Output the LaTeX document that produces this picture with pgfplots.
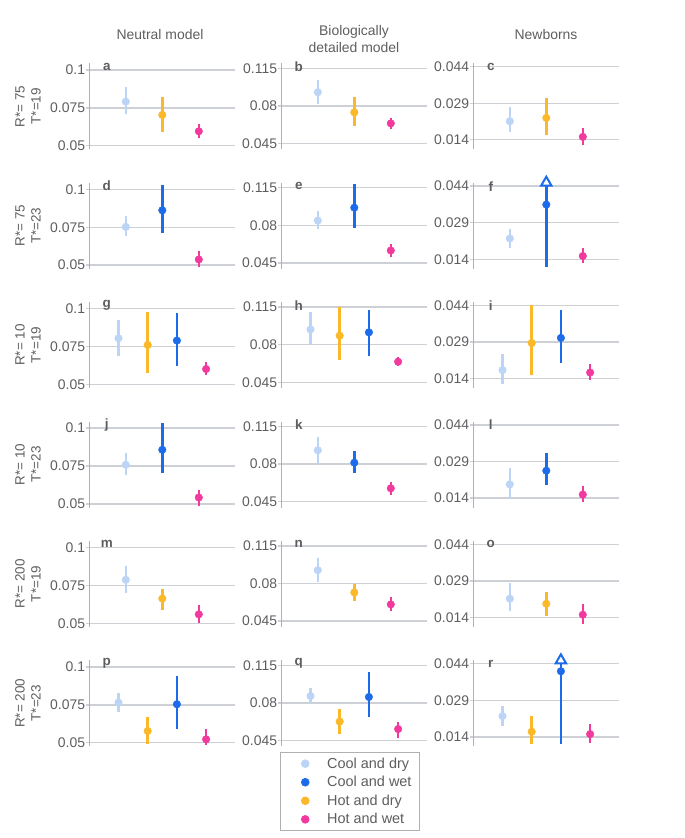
\documentclass[border=0pt]{standalone}
\usepackage{fontspec}
\setmainfont{Liberation Sans}
\usepackage{pgfplots}
\usepackage{pgfplotstable}
\pgfplotsset{compat=1.18}

\definecolor{cdry}{HTML}{BCD4F6}
\definecolor{cwet}{HTML}{1C6BEA}
\definecolor{hdry}{HTML}{FBB829}
\definecolor{hwet}{HTML}{F2399E}
\definecolor{gridgray}{HTML}{CDD0D4}
\definecolor{axisgray}{HTML}{B0B0B0}
\definecolor{textgray}{HTML}{5E5E5E}

% cat: 1 cool+dry, 2 cool+wet, 3 hot+dry, 4 hot+wet
\pgfplotstableread{
cat x y lo hi
1 0.25 0.0791 0.0707 0.0885
3 0.50 0.0703 0.0588 0.0819
4 0.75 0.0595 0.0548 0.0641
}\tabA
\pgfplotstableread{
cat x y lo hi
1 0.25 0.0927 0.0820 0.1039
3 0.50 0.0740 0.0615 0.0882
4 0.75 0.0637 0.0584 0.0686
}\tabB
\pgfplotstableread{
cat x y lo hi
1 0.25 0.0216 0.0170 0.0274
3 0.50 0.0230 0.0159 0.0311
4 0.75 0.0152 0.0119 0.0188
}\tabC
\pgfplotstableread{
cat x y lo hi
1 0.25 0.0752 0.0691 0.0822
2 0.50 0.0862 0.0715 0.1031
4 0.75 0.0537 0.0487 0.0590
}\tabD
\pgfplotstableread{
cat x y lo hi
1 0.25 0.0844 0.0769 0.0933
2 0.50 0.0964 0.0773 0.1185
4 0.75 0.0565 0.0508 0.0623
}\tabE
\pgfplotstableread{
cat x y lo hi
1 0.25 0.0225 0.0186 0.0266
2 0.50 0.0364 0.0109 0.0454
4 0.75 0.0153 0.0125 0.0186
}\tabF
\pgfplotstableread{
cat x y lo hi
1 0.2 0.0805 0.0690 0.0927
3 0.4 0.0761 0.0575 0.0976
2 0.6 0.0790 0.0622 0.0971
4 0.8 0.0602 0.0560 0.0648
}\tabG
\pgfplotstableread{
cat x y lo hi
1 0.2 0.0942 0.0804 0.1106
3 0.4 0.0884 0.0654 0.1150
2 0.6 0.0915 0.0698 0.1128
4 0.8 0.0641 0.0597 0.0685
}\tabH
\pgfplotstableread{
cat x y lo hi
1 0.2 0.0175 0.0119 0.0243
3 0.4 0.0286 0.0154 0.0443
2 0.6 0.0307 0.0205 0.0421
4 0.8 0.0165 0.0133 0.0198
}\tabI
\pgfplotstableread{
cat x y lo hi
1 0.25 0.0758 0.0692 0.0839
2 0.50 0.0857 0.0703 0.1033
4 0.75 0.0542 0.0489 0.0593
}\tabJ
\pgfplotstableread{
cat x y lo hi
1 0.25 0.0929 0.0805 0.1053
2 0.50 0.0813 0.0716 0.0920
4 0.75 0.0574 0.0508 0.0632
}\tabK
\pgfplotstableread{
cat x y lo hi
1 0.25 0.0196 0.0136 0.0262
2 0.50 0.0252 0.0192 0.0325
4 0.75 0.0154 0.0123 0.0190
}\tabL
\pgfplotstableread{
cat x y lo hi
1 0.25 0.0787 0.0700 0.0880
3 0.50 0.0663 0.0587 0.0728
4 0.75 0.0559 0.0504 0.0620
}\tabM
\pgfplotstableread{
cat x y lo hi
1 0.25 0.0924 0.0813 0.1039
3 0.50 0.0716 0.0636 0.0796
4 0.75 0.0605 0.0539 0.0672
}\tabN
\pgfplotstableread{
cat x y lo hi
1 0.25 0.0217 0.0168 0.0280
3 0.50 0.0196 0.0147 0.0245
4 0.75 0.0151 0.0112 0.0193
}\tabO
\pgfplotstableread{
cat x y lo hi
1 0.2 0.0765 0.0704 0.0831
3 0.4 0.0577 0.0489 0.0667
2 0.6 0.0754 0.0590 0.0939
4 0.8 0.0522 0.0485 0.0588
}\tabP
\pgfplotstableread{
cat x y lo hi
1 0.2 0.0864 0.0785 0.0943
3 0.4 0.0626 0.0512 0.0741
2 0.6 0.0855 0.0670 0.1084
4 0.8 0.0556 0.0476 0.0626
}\tabQ
\pgfplotstableread{
cat x y lo hi
1 0.2 0.0225 0.0186 0.0267
3 0.4 0.0161 0.0109 0.0225
2 0.6 0.0409 0.0109 0.0454
4 0.8 0.0151 0.0116 0.0193
}\tabR

\pgfplotsset{
  panel/.style={
    anchor=north west, scale only axis, width=146bp, height=86bp,
    xmin=0, xmax=1, axis x line=none, axis y line*=left,
    y axis line style={-, draw=axisgray, line width=0.9bp},
    ymajorgrids, major grid style={draw=gridgray, line width=1.4bp},
    tick align=outside, major tick length=3bp,
    ytick style={draw=gridgray, line width=1.4bp},
    scaled y ticks=false,
    yticklabel style={font=\fontsize{14}{15}\selectfont, text=textgray, inner xsep=1bp},
    clip=false,
  },
  colA/.style={ymin=0.0476, ymax=0.1044, ytick={0.05,0.075,0.1}, yticklabels={0.05,0.075,0.1}},
  colB/.style={ymin=0.0395, ymax=0.1197, ytick={0.045,0.08,0.115}, yticklabels={0.045,0.08,0.115}},
  colC/.style={ymin=0.0101, ymax=0.0454, ytick={0.014,0.029,0.044}, yticklabels={0.014,0.029,0.044}},
  s1/.style={cdry}, s2/.style={cwet}, s3/.style={hdry}, s4/.style={hwet},
}

\newcommand{\series}[2]{%
  \addplot[s#1, only marks, mark=*, mark size=3.8bp,
    error bars/y dir=both, error bars/y explicit, error bars/error mark=none,
    error bars/error bar style={line width=2.6bp, s#1}]
    table[x=x, y=y, y error plus expr=\thisrow{hi}-\thisrow{y},
      y error minus expr=\thisrow{y}-\thisrow{lo},
      restrict expr to domain={\thisrow{cat}}{#1:#1}] {#2};}

\newcommand{\panel}[6]{%
  \begin{axis}[panel, #3, at={(#1bp,-#2bp)}]
    \series{1}{#4}\series{2}{#4}\series{3}{#4}\series{4}{#4}
    \node[font=\bfseries\fontsize{13.5}{14}\selectfont, text=textgray]
      at (rel axis cs:0.12,0.96) {#5};
    #6
  \end{axis}}

\newcommand{\rowlab}[3]{%
  \node[rotate=90, align=center, text=textgray, font=\fontsize{13.5}{16}\selectfont]
    at (28bp,-#1bp) {R*= #2\\T*=#3};}

\begin{document}
\begin{tikzpicture}
\useasboundingbox (0,0) rectangle (685bp,-838bp);

\node[text=textgray, font=\fontsize{14}{17}\selectfont] at (160bp,-35bp) {Neutral model};
\node[text=textgray, font=\fontsize{14}{17}\selectfont, align=center] at (354bp,-39bp) {Biologically\\detailed model};
\node[text=textgray, font=\fontsize{14}{17}\selectfont] at (546bp,-35bp) {Newborns};

\rowlab{106.3}{75}{19}
\rowlab{225.7}{75}{23}
\rowlab{345.1}{10}{19}
\rowlab{464.5}{10}{23}
\rowlab{583.9}{200}{19}
\rowlab{703.3}{200}{23}

\panel{89.3}{63.3}{colA}{\tabA}{a}{}
\panel{281.3}{63.3}{colB}{\tabB}{b}{}
\panel{473.3}{63.3}{colC}{\tabC}{c}{}

\panel{89.3}{182.7}{colA}{\tabD}{d}{}
\panel{281.3}{182.7}{colB}{\tabE}{e}{}
\panel{473.3}{182.7}{colC}{\tabF}{f}{%
  \addplot[cwet, only marks, mark=triangle*, mark size=6bp,
    mark options={fill=white, draw=cwet, line width=2bp}] coordinates {(0.5,0.0454)};}

\panel{89.3}{302.1}{colA}{\tabG}{g}{}
\panel{281.3}{302.1}{colB}{\tabH}{h}{}
\panel{473.3}{302.1}{colC}{\tabI}{i}{}

\panel{89.3}{421.5}{colA}{\tabJ}{j}{}
\panel{281.3}{421.5}{colB}{\tabK}{k}{}
\panel{473.3}{421.5}{colC}{\tabL}{l}{}

\panel{89.3}{540.9}{colA}{\tabM}{m}{}
\panel{281.3}{540.9}{colB}{\tabN}{n}{}
\panel{473.3}{540.9}{colC}{\tabO}{o}{}

\panel{89.3}{660.3}{colA}{\tabP}{p}{}
\panel{473.3}{660.3}{colC}{\tabR}{r}{%
  \addplot[cwet, only marks, mark=triangle*, mark size=6bp,
    mark options={fill=white, draw=cwet, line width=2bp}] coordinates {(0.6,0.0454)};}
\panel{281.3}{660.3}{colB, legend cell align=left,
  legend style={at={(-0.01,-0.063)}, anchor=north west, draw=axisgray,
    line width=0.9bp, fill=white, text=textgray,
    font=\fontsize{14.5}{16}\selectfont, inner xsep=6.6bp, inner ysep=4bp,
    nodes={inner sep=1.5bp}, row sep=3.6bp,
    /tikz/every odd column/.append style={column sep=13.9bp}},
  legend image code/.code={%
    \draw[mark repeat=2, mark phase=2, #1] plot coordinates {(11.8bp,0bp) (17.9bp,0bp) (24bp,0bp)};
    \path (0bp,0bp) (24bp,0bp);}
  }{\tabQ}{q}{%
  \legend{Cool and dry, Cool and wet, Hot and dry, Hot and wet}}

\end{tikzpicture}
\end{document}
